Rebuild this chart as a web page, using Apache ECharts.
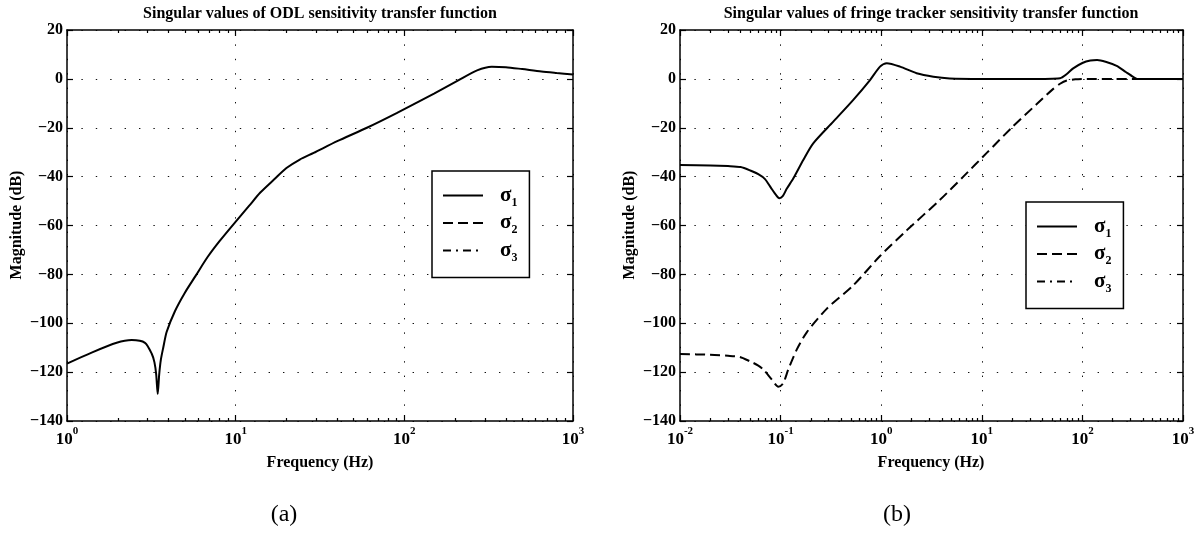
<!DOCTYPE html>
<html>
<head>
<meta charset="utf-8">
<script src="https://cdn.jsdelivr.net/npm/echarts@6/dist/echarts.min.js"></script>
<style>
html,body{margin:0;padding:0;background:#fff;}
#chart{width:1200px;height:536px;}
</style>
</head>
<body>
<div id="chart"></div>
<script>
// ---------- data ----------
const titleA = 'Singular values of ODL sensitivity transfer function';
const titleB = 'Singular values of fringe tracker sensitivity transfer function';
const xLabel = 'Frequency (Hz)';
const yLabel = 'Magnitude (dB)';
const panelLabels = ['(a)', '(b)'];
const legendNames = ['σ1', 'σ2', 'σ3'];

const yTicks = [-140, -120, -100, -80, -60, -40, -20, 0, 20];

const xMajorA = [1, 10, 100, 1000];
const xMinorA = [2,3,4,5,6,7,8,9,20,30,40,50,60,70,80,90,200,300,400,500,600,700,800,900];
const xMajorB = [0.01, 0.1, 1, 10, 100, 1000];
const xMinorB = [0.02,0.03,0.04,0.05,0.06,0.07,0.08,0.09,0.2,0.3,0.4,0.5,0.6,0.7,0.8,0.9,
                 2,3,4,5,6,7,8,9,20,30,40,50,60,70,80,90,200,300,400,500,600,700,800,900];

// Panel (a): ODL sensitivity, sigma 1
const freqA1 = [1, 1.4, 1.97, 2.42, 2.9, 3.18, 3.3, 3.38, 3.45, 3.52, 3.6, 3.72, 3.9, 4.37, 5.0, 5.8, 6.8, 8.0, 9.7, 12, 14, 17, 20, 24, 29, 40, 60, 90, 150, 210, 270, 330, 400, 500, 650, 800, 1000];
const magA1  = [-116.5, -112, -108, -106.9, -108, -112.5, -116, -121, -129, -121, -115, -110, -103.5, -95, -87.5, -80.5, -73, -66.5, -59.5, -52, -46.5, -41, -36.5, -33, -30.3, -25.5, -20, -14, -6, -0.5, 3.5, 5, 4.8, 4, 3, 2.4, 1.8];
const freqA2 = [];
const magA2  = [];
const freqA3 = [];
const magA3  = [];

// Panel (b): fringe tracker sensitivity
const freqB1 = [0.01, 0.02, 0.03, 0.04, 0.05, 0.06, 0.07, 0.08, 0.09, 0.097, 0.105, 0.115, 0.134, 0.168, 0.211, 0.334, 0.528, 0.774, 0.973, 1.135, 1.54, 2.25, 3.3, 4.8, 10, 30, 60, 70, 81, 100, 120, 140, 170, 219, 270, 320, 350, 500, 1000];
const magB1  = [-35.2, -35.4, -35.7, -36.1, -37.5, -39, -41, -44.5, -47.5, -48.8, -48, -45, -40.7, -33.2, -26.4, -17.5, -8.6, -0.5, 5, 6.4, 5, 2.3, 0.9, 0.2, 0, 0, 0.3, 2, 4.3, 6.5, 7.5, 7.7, 7, 5.3, 2.8, 0.8, 0, 0, 0];
const freqB2 = [0.01, 0.02, 0.03, 0.0394, 0.0497, 0.06, 0.0673, 0.0815, 0.0949, 0.106, 0.119, 0.145, 0.182, 0.287, 0.528, 0.973, 1.79, 3.84, 6.55, 11.2, 19.8, 35.2, 50, 60, 70, 85, 120, 200, 400, 1000];
const magB2  = [-112.6, -112.9, -113.3, -113.8, -115.6, -117.3, -118.9, -123, -126, -124.6, -119, -110.7, -103.7, -94.1, -84.5, -72.5, -62, -49.5, -40, -30.3, -20, -10.3, -4.5, -2, -0.7, -0.2, 0, 0, 0, 0];
const freqB3 = [];
const magB3  = [];

// ---------- chart ----------
const serif = '"Liberation Serif", "Times New Roman", serif';
const chart = echarts.init(document.getElementById('chart'));

function pairs(xs, ys) { return xs.map((x, i) => [x, ys[i]]); }

const grids = [
  { left: 67, right: 627, top: 30, height: 391 },
  { left: 680, right: 17, top: 30, height: 391 }
];

const panels = [
  { min: 1, max: 1000, major: xMajorA, minor: xMinorA,
    series: [[freqA1, magA1], [freqA2, magA2], [freqA3, magA3]] },
  { min: 0.01, max: 1000, major: xMajorB, minor: xMinorB,
    series: [[freqB1, magB1], [freqB2, magB2], [freqB3, magB3]] }
];

const lineTypes = ['solid', [10, 5], [8, 5, 2, 5]];

const xAxes = [], yAxes = [], series = [], legends = [];
const axisLineStyle = { color: '#000', width: 1.5 };
const tickStyle = { color: '#000', width: 1.2 };
const gridDots = { color: '#111', width: 1, type: [1.4, 13] };

panels.forEach((p, gi) => {
  const baseX = xAxes.length;
  // bottom major (labels)
  xAxes.push({
    gridIndex: gi, type: 'log', logBase: 10, min: p.min, max: p.max, position: 'bottom',
    axisLine: { show: true, onZero: false, lineStyle: axisLineStyle },
    axisTick: { show: true, inside: true, length: 6, lineStyle: tickStyle, customValues: p.major },
    axisLabel: {
      show: true, margin: 5, customValues: p.major,
      formatter: v => '{b|10}{e|' + Math.round(Math.log10(v)) + '}',
      rich: {
        b: { fontFamily: serif, fontWeight: 'bold', fontSize: 17, color: '#000', lineHeight: 22, verticalAlign: 'bottom' },
        e: { fontFamily: serif, fontWeight: 'bold', fontSize: 11, color: '#000', lineHeight: 22, verticalAlign: 'top' }
      }
    },
    splitLine: { show: true, lineStyle: gridDots }
  });
  // bottom minor
  xAxes.push({
    gridIndex: gi, type: 'log', logBase: 10, min: p.min, max: p.max, position: 'bottom',
    axisLine: { show: false, onZero: false },
    axisTick: { show: true, inside: true, length: 3, lineStyle: tickStyle, customValues: p.minor },
    axisLabel: { show: false }, splitLine: { show: false }
  });
  // top major
  xAxes.push({
    gridIndex: gi, type: 'log', logBase: 10, min: p.min, max: p.max, position: 'top',
    axisLine: { show: true, onZero: false, lineStyle: axisLineStyle },
    axisTick: { show: true, inside: true, length: 6, lineStyle: tickStyle, customValues: p.major },
    axisLabel: { show: false }, splitLine: { show: false }
  });
  // top minor
  xAxes.push({
    gridIndex: gi, type: 'log', logBase: 10, min: p.min, max: p.max, position: 'top',
    axisLine: { show: false, onZero: false },
    axisTick: { show: true, inside: true, length: 3, lineStyle: tickStyle, customValues: p.minor },
    axisLabel: { show: false }, splitLine: { show: false }
  });
  const baseY = yAxes.length;
  yAxes.push({
    gridIndex: gi, type: 'value', min: yTicks[0], max: yTicks[yTicks.length - 1], interval: 20, position: 'left',
    axisLine: { show: true, onZero: false, lineStyle: axisLineStyle },
    axisTick: { show: true, inside: true, length: 6, lineStyle: tickStyle },
    axisLabel: {
      show: true, margin: 4, fontFamily: serif, fontWeight: 'bold', fontSize: 16, color: '#000',
      formatter: v => (v < 0 ? '\u2212' + Math.abs(v) : String(v))
    },
    splitLine: { show: true, lineStyle: gridDots }
  });
  yAxes.push({
    gridIndex: gi, type: 'value', min: yTicks[0], max: yTicks[yTicks.length - 1], interval: 20, position: 'right',
    axisLine: { show: true, onZero: false, lineStyle: axisLineStyle },
    axisTick: { show: true, inside: true, length: 6, lineStyle: tickStyle },
    axisLabel: { show: false }, splitLine: { show: false }
  });
  const names = [];
  p.series.forEach((s, si) => {
    const nm = 's' + (si + 1) + (gi === 0 ? 'a' : 'b');
    names.push(nm);
    series.push({
      name: nm, type: 'line', xAxisIndex: baseX, yAxisIndex: baseY,
      data: pairs(s[0], s[1]), showSymbol: false, symbol: 'none', smooth: 0.25,
      lineStyle: { color: '#000', width: 2, type: lineTypes[si] },
      itemStyle: { color: '#000' },
      animation: false, silent: true
    });
  });
  legends.push({
    orient: 'vertical',
    left: gi === 0 ? 432 : 1026,
    top: gi === 0 ? 171 : 202,
    padding: [14, 12, 14, 10],
    itemWidth: 40, itemHeight: 14, itemGap: 4,
    borderColor: '#000', borderWidth: 1.5,
    backgroundColor: '#fff',
    selectedMode: false,
    itemStyle: { color: 'rgba(0,0,0,0)', borderColor: 'rgba(0,0,0,0)', borderWidth: 0, opacity: 0 },
    data: names,
    formatter: n => '{g|σ}{s|' + n.charAt(1) + '}',
    textStyle: {
      rich: {
        g: { fontFamily: serif, fontWeight: 'bold', fontSize: 21, color: '#000', lineHeight: 26, padding: [0, 0, 0, 12], verticalAlign: 'middle' },
        s: { fontFamily: serif, fontWeight: 'bold', fontSize: 12, color: '#000', lineHeight: 26, verticalAlign: 'bottom' }
      }
    }
  });
});

function txt(x, y, text, size, weight, rotation) {
  return {
    type: 'text', x: x, y: y, rotation: rotation || 0, silent: true,
    style: { text: text, fill: '#000', font: weight + ' ' + size + 'px ' + serif, align: 'center', verticalAlign: 'middle' }
  };
}

const option = {
  animation: false,
  backgroundColor: '#fff',
  grid: grids,
  xAxis: xAxes,
  yAxis: yAxes,
  legend: legends,
  series: series,
  graphic: [
    txt(320, 14, titleA, 16, 'bold'),
    txt(931, 14, titleB, 16, 'bold'),
    txt(320, 463, xLabel, 16, 'bold'),
    txt(931, 463, xLabel, 16, 'bold'),
    txt(17, 225, yLabel, 16, 'bold', Math.PI / 2),
    txt(630, 225, yLabel, 16, 'bold', Math.PI / 2),
    txt(284, 515, panelLabels[0], 24, 'normal'),
    txt(897, 515, panelLabels[1], 24, 'normal')
  ]
};
chart.setOption(option);
</script>
</body>
</html>
